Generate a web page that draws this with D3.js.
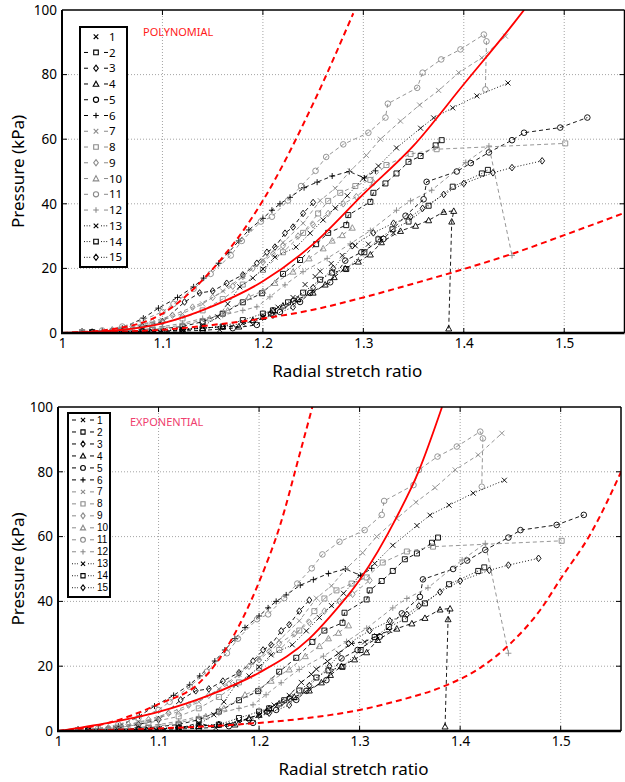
<!DOCTYPE html>
<html><head><meta charset="utf-8">
<script src="https://cdn.jsdelivr.net/npm/d3@7"></script>
<style>
body{margin:0;background:#fff;}
svg{display:block;font-family:"Noto Sans","Open Sans",sans-serif;}
</style></head>
<body>
<svg id="chart" width="625" height="782"></svg>
<script>
// ---------- data ----------
const xTicks = [1, 1.1, 1.2, 1.3, 1.4, 1.5];
const yTicks = [0, 20, 40, 60, 80, 100];
const seriesNames = ["1","2","3","4","5","6","7","8","9","10","11","12","13","14","15"];

const s1  = [[1.02,0.3],[1.05,0.3],[1.09,0.5],[1.12,0.8],[1.14,2.5],[1.157,1],[1.18,3],[1.2,5],[1.215,8],[1.23,11],[1.242,15],[1.252,17.5],[1.257,19.1],[1.268,21.5],[1.279,24],[1.292,27],[1.305,27.5],[1.317,29.4],[1.33,31]];
const s2  = [[1.03,0.2],[1.06,0.5],[1.09,1],[1.12,2],[1.14,3.5],[1.16,6],[1.18,9.5],[1.199,12.3],[1.22,18.3],[1.237,22.6],[1.253,27.5],[1.265,31],[1.283,33.4],[1.285,36.5],[1.307,40.6],[1.31,43.4],[1.322,46.3],[1.333,49.4],[1.345,53],[1.357,54.8],[1.372,58.1],[1.378,59.7]];
const s3  = [[1.02,0.2],[1.05,0.6],[1.08,2],[1.1,3.5],[1.122,9.6],[1.137,12.4],[1.15,13],[1.164,15.4],[1.18,18],[1.194,21.6],[1.204,25],[1.212,26.6],[1.222,30.9],[1.23,32.8],[1.24,37],[1.25,40.4]];
const s4  = [[1.02,0.5],[1.05,0.3],[1.08,0.5],[1.1,0.5],[1.12,1],[1.14,1.5],[1.16,2],[1.176,2],[1.19,4],[1.2,5],[1.21,7],[1.22,8.5],[1.235,10.5],[1.25,12.5],[1.262,15],[1.271,17.3],[1.282,20],[1.295,22.1],[1.307,24.3],[1.318,28.1],[1.337,31.6],[1.352,33.2],[1.365,34.9],[1.38,37.5],[1.39,37.8],[1.388,34.5],[1.385,1.4]];
const s5  = [[1.02,0.2],[1.06,0.3],[1.1,0.5],[1.14,0.8],[1.17,1.5],[1.194,2.5],[1.208,6],[1.217,6.5],[1.231,10],[1.237,9.6],[1.247,12.4],[1.267,15.7],[1.282,22.4],[1.298,25],[1.32,29.1],[1.342,36.3],[1.36,41.4],[1.363,46.8],[1.393,50],[1.407,52.6],[1.425,55.9],[1.448,59.7],[1.46,62],[1.496,63.6],[1.523,66.7]];
const s6  = [[1.02,0.2],[1.04,0.6],[1.06,1.5],[1.081,4.6],[1.096,7.7],[1.115,11],[1.131,14.3],[1.141,17],[1.156,21.6],[1.166,25],[1.176,28.5],[1.186,31.9],[1.2,35.5],[1.209,38],[1.217,40],[1.227,42],[1.241,45],[1.254,46.7],[1.269,48.6],[1.286,50],[1.301,48],[1.312,50.2]];
const s7  = [[1.02,0.2],[1.05,0.8],[1.08,2.5],[1.1,4],[1.12,6],[1.14,9],[1.16,13],[1.18,17.5],[1.2,22.5],[1.22,28],[1.24,34],[1.257,41],[1.272,44.8],[1.287,50.2],[1.303,55],[1.317,60],[1.337,65.6],[1.356,70.6],[1.375,75.1],[1.395,80.6],[1.418,85.2],[1.4415,91.9]];
const s8  = [[1.03,0.3],[1.06,1],[1.09,2.5],[1.12,4.5],[1.14,7],[1.16,10.5],[1.18,15],[1.2,19.5],[1.22,25],[1.24,31],[1.255,37],[1.265,40.9],[1.277,43.4],[1.292,45.5],[1.307,47.4],[1.323,52],[1.347,55.4],[1.373,56.9],[1.501,58.7]];
const s9  = [[1.02,0.3],[1.05,1],[1.07,2],[1.09,3.5],[1.11,5.5],[1.13,8],[1.15,11],[1.17,14.5],[1.18,17.5],[1.19,20],[1.2,22],[1.21,24.5],[1.22,27],[1.235,30],[1.25,33.5],[1.265,37],[1.28,40],[1.293,42.2],[1.31,46.5]];
const s10 = [[1.02,0.5],[1.05,0.6],[1.08,1],[1.1,1.5],[1.12,2.5],[1.147,4.5],[1.165,7],[1.186,11.2],[1.2,13],[1.212,15.5],[1.23,19],[1.246,23.1],[1.26,26.2],[1.269,28.6],[1.279,30.3],[1.289,32.6]];
const s11 = [[1.02,0.3],[1.04,0.8],[1.06,2],[1.08,4],[1.1,6.5],[1.111,9],[1.131,13.7],[1.148,18.3],[1.168,24],[1.179,28.5],[1.198,34.5],[1.209,36],[1.225,41],[1.238,45.5],[1.2524,50.2],[1.263,54.5],[1.28,58.4],[1.305,62],[1.322,66.7],[1.3244,71],[1.3536,75.9],[1.359,80.6],[1.3775,84.7],[1.3967,87.8],[1.42,92.4],[1.4226,90.3],[1.4215,75.4]];
const s12 = [[1.02,0.2],[1.05,0.5],[1.08,1],[1.1,2],[1.12,3],[1.14,4.5],[1.16,5.5],[1.18,7],[1.194,8.1],[1.207,11.2],[1.222,14.9],[1.24,19],[1.264,23.1],[1.287,27.6],[1.307,31.7],[1.333,38],[1.347,40.9],[1.368,44.2],[1.402,52.8],[1.425,57.9],[1.448,24]];
const s13 = [[1.03,0.2],[1.06,0.3],[1.09,0.5],[1.12,1],[1.14,2],[1.155,5],[1.165,9],[1.177,14.3],[1.19,17],[1.2,19.8],[1.212,23.5],[1.233,26.6],[1.247,30.9],[1.26,35],[1.272,38.7],[1.284,42.5],[1.3,47.9],[1.315,51.7],[1.333,57.3],[1.357,63.4],[1.37,66.6],[1.389,69.7],[1.413,73.4],[1.444,77.4]];
const s14 = [[1.03,0.2],[1.08,0.5],[1.12,1],[1.14,1.5],[1.16,2],[1.18,4],[1.2,6],[1.21,7],[1.225,9.5],[1.24,12.5],[1.257,16.5],[1.269,18.7],[1.283,19.8],[1.301,25],[1.315,29],[1.329,32.1],[1.345,34.5],[1.365,39.4],[1.389,45.3],[1.418,49.4],[1.424,50.5]];
const s15 = [[1.03,0.3],[1.08,0.6],[1.12,1],[1.16,2],[1.19,3.5],[1.21,5.5],[1.23,8],[1.25,14],[1.27,20],[1.289,27],[1.31,31],[1.33,34],[1.347,36],[1.359,38.6],[1.38,42.9],[1.4,46.3],[1.429,49.6],[1.448,51.2],[1.478,53.3]];
const seriesData = [s1,s2,s3,s4,s5,s6,s7,s8,s9,s10,s11,s12,s13,s14,s15];

// fitted model curves
const polyFitX   = [1, 1.05, 1.1, 1.15, 1.2, 1.25, 1.3, 1.35, 1.4, 1.45, 1.46];
const polyFitY   = [0, 0.7, 3, 8.3, 16, 27.5, 43, 58, 77, 96, 100];
const polyUpX    = [1, 1.05, 1.1, 1.15, 1.2, 1.25, 1.29];
const polyUpY    = [0, 1.2, 6, 19.8, 41, 71, 99];
const polyLowX   = [1, 1.1, 1.15, 1.2, 1.25, 1.3, 1.35, 1.4, 1.45, 1.5, 1.56];
const polyLowY   = [0, 1, 2.5, 4.5, 7.2, 11, 15.3, 19.8, 24.7, 30.3, 37.2];
const expFitX    = [1, 1.05, 1.1, 1.15, 1.2, 1.25, 1.2706, 1.3, 1.337, 1.3585, 1.382];
const expFitY    = [0, 2.5, 5.9, 11, 18, 28.5, 35.3, 46.6, 66.1, 80, 100];
const expUpX     = [1, 1.05, 1.1, 1.141, 1.174, 1.2, 1.221, 1.24, 1.253];
const expUpY     = [0, 2.5, 8.3, 15, 29, 46, 63.6, 85, 100];
const expLowX    = [1, 1.1, 1.2, 1.27, 1.3, 1.34, 1.383, 1.42, 1.45, 1.48, 1.5, 1.53, 1.561];
const expLowY    = [0, 0.8, 2.5, 4.9, 6.5, 9.5, 13.7, 19.5, 27, 37.5, 47, 61, 80.6];

// ---------- styles ----------
const BLACK = "#000", GRAY = "#8a8a8a";
const styles = [
  {c:BLACK, m:"x",    d:null},
  {c:BLACK, m:"sq",   d:"4,3"},
  {c:BLACK, m:"dia",  d:"4,3"},
  {c:BLACK, m:"tri",  d:"4,3"},
  {c:BLACK, m:"circ", d:"4,3"},
  {c:BLACK, m:"plus", d:"4,3"},
  {c:GRAY,  m:"x",    d:"4,3"},
  {c:GRAY,  m:"sq",   d:"4,3"},
  {c:GRAY,  m:"dia",  d:"4,3"},
  {c:GRAY,  m:"tri",  d:"4,3"},
  {c:GRAY,  m:"circ", d:"4,3"},
  {c:GRAY,  m:"plus", d:"4,3"},
  {c:BLACK, m:"x",    d:"1,2"},
  {c:BLACK, m:"sq",   d:"1,2"},
  {c:BLACK, m:"dia",  d:"1,2"}
];

function markerPath(m, s){
  switch(m){
    case "x": return `M${-s},${-s}L${s},${s}M${-s},${s}L${s},${-s}`;
    case "plus": return `M${-s-0.5},0L${s+0.5},0M0,${-s-0.5}L0,${s+0.5}`;
    case "sq": return `M${-s},${-s}H${s}V${s}H${-s}Z`;
    case "dia": return `M0,${-s-0.8}L${s},0L0,${s+0.8}L${-s},0Z`;
    case "tri": return `M0,${-s-0.5}L${s+0.5},${s}L${-s-0.5},${s}Z`;
    case "circ": return d3.arc()({innerRadius:0,outerRadius:s+0.3,startAngle:0,endAngle:2*Math.PI});
  }
}

const svg = d3.select("#chart");

function drawPanel(cfg){
  const g = svg.append("g");
  const x = d3.scaleLinear().domain([1,1.56]).range([cfg.left, cfg.right]);
  const y = d3.scaleLinear().domain([0,100]).range([cfg.bottom, cfg.top]);
  const clipId = "clip"+cfg.id;
  svg.append("clipPath").attr("id",clipId).append("rect")
    .attr("x",cfg.left).attr("y",cfg.top).attr("width",cfg.right-cfg.left).attr("height",cfg.bottom-cfg.top);

  // grid
  g.append("g").selectAll("line").data(xTicks.slice(1)).join("line")
    .attr("x1",d=>x(d)).attr("x2",d=>x(d)).attr("y1",cfg.top).attr("y2",cfg.bottom)
    .attr("stroke","#9a9a9a").attr("stroke-width",0.9).attr("stroke-dasharray","1,2");
  g.append("g").selectAll("line").data(yTicks.slice(1,-1)).join("line")
    .attr("x1",cfg.left).attr("x2",cfg.right).attr("y1",d=>y(d)).attr("y2",d=>y(d))
    .attr("stroke","#9a9a9a").attr("stroke-width",0.9).attr("stroke-dasharray","1,2");

  // axes
  const yAx = g.append("g").attr("transform",`translate(${cfg.left},0)`)
    .call(d3.axisLeft(y).tickValues(yTicks).tickSize(0).tickPadding(5).tickFormat(d3.format("d")));
  yAx.select(".domain").remove();
  yAx.selectAll("text").attr("font-size",13.5).attr("fill","#000").attr("font-family","Noto Sans");
  const xAx = g.append("g").attr("transform",`translate(0,${cfg.bottom})`)
    .call(d3.axisBottom(x).tickValues(xTicks).tickSize(0).tickPadding(5).tickFormat(d=>d===1?"1":d3.format(".1f")(d)));
  xAx.select(".domain").remove();
  xAx.selectAll("text").attr("font-size",13.5).attr("fill","#000").attr("font-family","Noto Sans");
  // inner ticks on all sides
  const rt = g.append("g");
  rt.selectAll("line.r").data(yTicks.slice(1,-1)).join("line").attr("class","r")
    .attr("x1",cfg.right).attr("x2",cfg.right-5).attr("y1",d=>y(d)).attr("y2",d=>y(d)).attr("stroke","#000").attr("stroke-width",1);
  rt.selectAll("line.l").data(yTicks.slice(1,-1)).join("line").attr("class","l")
    .attr("x1",cfg.left).attr("x2",cfg.left+5).attr("y1",d=>y(d)).attr("y2",d=>y(d)).attr("stroke","#000").attr("stroke-width",1);
  rt.selectAll("line.t").data(xTicks.slice(1)).join("line").attr("class","t")
    .attr("x1",d=>x(d)).attr("x2",d=>x(d)).attr("y1",cfg.top).attr("y2",cfg.top+5).attr("stroke","#000").attr("stroke-width",1);
  rt.selectAll("line.b").data(xTicks.slice(1)).join("line").attr("class","b")
    .attr("x1",d=>x(d)).attr("x2",d=>x(d)).attr("y1",cfg.bottom).attr("y2",cfg.bottom-5).attr("stroke","#000").attr("stroke-width",1);

  // series
  const plot = g.append("g").attr("clip-path",`url(#${clipId})`);
  const line = d3.line().x(d=>x(d[0])).y(d=>y(d[1]));
  seriesData.forEach((data,i)=>{
    const st = styles[i];
    const dash = (i===0 && cfg.id==="b") ? "4,3" : st.d;
    if(dash){
      plot.append("path").datum(data).attr("d",line).attr("fill","none")
        .attr("stroke",st.c).attr("stroke-width",0.9).attr("stroke-dasharray",dash);
    }
    plot.append("g").selectAll("path").data(data).join("path")
      .attr("transform",d=>`translate(${x(d[0])},${y(d[1])})`)
      .attr("d",markerPath(st.m,2.5)).attr("fill","none").attr("stroke",st.c).attr("stroke-width",0.9);
  });

  // model curves
  const cl = d3.line().x(d=>x(d[0])).y(d=>y(d[1])).curve(d3.curveMonotoneX);
  const zip = (a,b)=>a.map((v,k)=>[v,b[k]]);
  const curves = cfg.id==="t"
    ? [[polyUpX,polyUpY,"6,4"],[polyLowX,polyLowY,"6,4"],[polyFitX,polyFitY,null]]
    : [[expUpX,expUpY,"6,4"],[expLowX,expLowY,"6,4"],[expFitX,expFitY,null]];
  curves.forEach(([cx,cy,dash])=>{
    plot.append("path").datum(zip(cx,cy)).attr("d",cl).attr("fill","none")
      .attr("stroke","#ff0000").attr("stroke-width",dash?2:1.8).attr("stroke-dasharray",dash);
  });

  // frame
  g.append("line").attr("x1",cfg.left).attr("x2",cfg.right).attr("y1",cfg.top).attr("y2",cfg.top).attr("stroke","#000").attr("stroke-width",1.5);
  g.append("line").attr("x1",cfg.right).attr("x2",cfg.right).attr("y1",cfg.top).attr("y2",cfg.bottom).attr("stroke","#000").attr("stroke-width",1.5);
  g.append("line").attr("x1",cfg.left).attr("x2",cfg.left).attr("y1",cfg.top).attr("y2",cfg.bottom+1).attr("stroke","#000").attr("stroke-width",2);
  g.append("line").attr("x1",cfg.left-1).attr("x2",cfg.right).attr("y1",cfg.bottom).attr("y2",cfg.bottom).attr("stroke","#000").attr("stroke-width",2.6);

  // titles
  g.append("text").attr("x",(cfg.left+cfg.right)/2+cfg.xtDx).attr("y",cfg.bottom+44)
    .attr("text-anchor","middle").attr("font-size",17).attr("fill","#000").text("Radial stretch ratio");
  g.append("text").attr("transform",`translate(${cfg.ytX},${(cfg.top+cfg.bottom)/2}) rotate(-90)`)
    .attr("text-anchor","middle").attr("font-size",17).attr("fill","#000").text("Pressure (kPa)");

  // label
  g.append("text").attr("x",cfg.lblX).attr("y",cfg.lblY).attr("font-size",11).attr("fill",cfg.lblColor).text(cfg.lbl);

  // legend
  const L = cfg.leg;
  const lg = g.append("g");
  lg.append("rect").attr("x",L.x).attr("y",L.y).attr("width",L.w).attr("height",L.h)
    .attr("fill","#fff").attr("stroke","#000").attr("stroke-width",2);
  seriesNames.forEach((nm,i)=>{
    const st = styles[i];
    const yy = L.y0 + i*L.dy;
    const dashed = (i===0 && cfg.id==="b") || (st.d && st.d!=="1,2");
    const dotted = st.d==="1,2";
    if(dashed){
      [[L.mx-L.o2, L.mx-L.o1],[L.mx+L.o1, L.mx+L.o2]].forEach(([a,b])=>{
        lg.append("line").attr("x1",a).attr("x2",b).attr("y1",yy).attr("y2",yy)
          .attr("stroke",st.c).attr("stroke-width",1);
      });
    } else if(dotted){
      [[L.mx-L.o2, L.mx-5],[L.mx+5, L.mx+L.o2]].forEach(([a,b])=>{
        lg.append("line").attr("x1",a).attr("x2",b).attr("y1",yy).attr("y2",yy)
          .attr("stroke",st.c).attr("stroke-width",0.9).attr("stroke-dasharray","1,1.6");
      });
    }
    lg.append("path").attr("transform",`translate(${L.mx},${yy})`).attr("d",markerPath(st.m,L.ms))
      .attr("fill","none").attr("stroke",st.c).attr("stroke-width",1.1);
    lg.append("text").attr("x",L.tx).attr("y",yy).attr("dy","0.36em").attr("font-size",L.fs)
      .attr("font-family",L.ff).attr("fill","#000").text(nm);
  });
}

drawPanel({id:"t", left:62, right:624.5, top:10, bottom:333, xtDx:4, ytX:24,
  lbl:"POLYNOMIAL", lblX:143, lblY:36, lblColor:"#ff1a1a",
  leg:{x:80,y:27,w:47,h:240,y0:36.7,dy:15.76,mx:96,o1:8,o2:12,ms:2.3,tx:109,fs:11.5,ff:"Noto Sans"}});
drawPanel({id:"b", left:58, right:621, top:407, bottom:731, xtDx:14, ytX:24,
  lbl:"EXPONENTIAL", lblX:130, lblY:426, lblColor:"#f0406e",
  leg:{x:68,y:413,w:42,h:184,y0:420,dy:11.98,mx:83,o1:7,o2:11,ms:2.1,tx:97,fs:10,ff:"Liberation Sans"}});
</script>
</body></html>
